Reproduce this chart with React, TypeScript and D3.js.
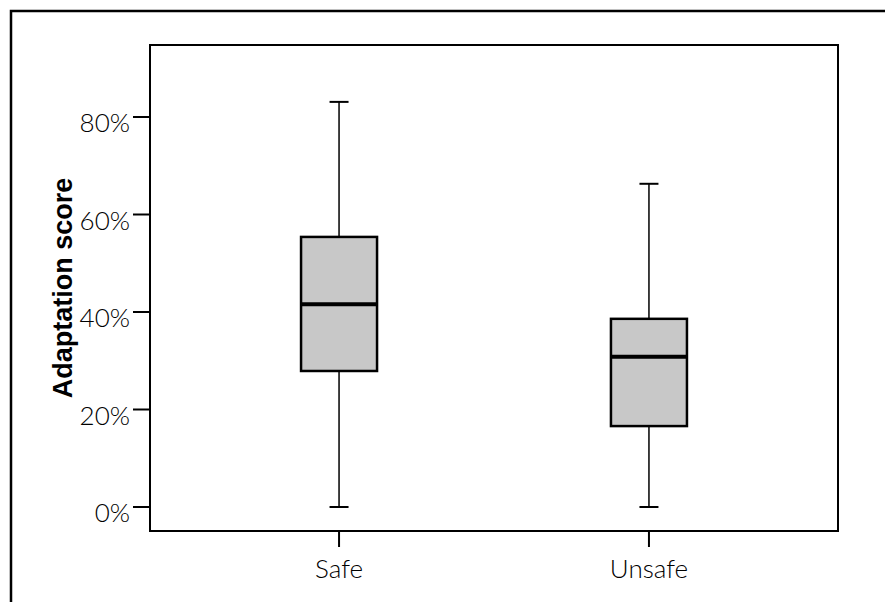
import * as d3 from "d3"
import React from "react"

const groups = ["Safe", "Unsafe"]
const mins = [0, 0]
const q1s = [27.9, 16.6]
const medians = [41.6, 30.8]
const q3s = [55.4, 38.6]
const maxs = [83.1, 66.3]
const yTickValues = [0, 20, 40, 60, 80]

export default function App() {
  const W = 885
  const H = 602
  const left = 150
  const right = 838
  const top = 45
  const bottom = 531
  const y = d3.scaleLinear().domain([0, 80]).range([507, 117])
  const x = d3.scalePoint().domain(groups).range([left, right]).padding(0.61)
  const boxW = 76
  const capW = 19
  const font = "Lato, 'DejaVu Sans', sans-serif"

  return (
    <svg width={W} height={H} style={{ position: "absolute", left: 0, top: 0, background: "#fff" }}>
      <path d={`M11,${H} V11 H${W}`} fill="none" stroke="#000" strokeWidth={2.5} />
      <rect x={left} y={top} width={right - left} height={bottom - top} fill="#fff" stroke="#000" strokeWidth={2} />
      {yTickValues.map(t => (
        <g key={t}>
          <line x1={133} x2={left} y1={y(t)} y2={y(t)} stroke="#000" strokeWidth={2} />
          <text x={130} y={y(t) + 15} textAnchor="end" fontSize={26} fontWeight={300} fontFamily={font} fill="#000">{t}%</text>
        </g>
      ))}
      {groups.map((g, i) => {
        const cx = x(g)!
        return (
          <g key={g}>
            <line x1={cx} x2={cx} y1={bottom} y2={bottom + 16} stroke="#000" strokeWidth={2} />
            <text x={cx} y={578} textAnchor="middle" fontSize={26} fontWeight={300} fontFamily={font} fill="#000">{g}</text>
            <line x1={cx} x2={cx} y1={y(maxs[i])} y2={y(q3s[i])} stroke="#000" strokeWidth={1.5} />
            <line x1={cx} x2={cx} y1={y(q1s[i])} y2={y(mins[i])} stroke="#000" strokeWidth={1.5} />
            <line x1={cx - capW / 2} x2={cx + capW / 2} y1={y(maxs[i])} y2={y(maxs[i])} stroke="#000" strokeWidth={2} />
            <line x1={cx - capW / 2} x2={cx + capW / 2} y1={y(mins[i])} y2={y(mins[i])} stroke="#000" strokeWidth={2} />
            <rect x={cx - boxW / 2} width={boxW} y={y(q3s[i])} height={y(q1s[i]) - y(q3s[i])} fill="#c8c8c8" stroke="#000" strokeWidth={2.5} />
            <line x1={cx - boxW / 2} x2={cx + boxW / 2} y1={y(medians[i])} y2={y(medians[i])} stroke="#000" strokeWidth={4} />
          </g>
        )
      })}
      <text transform={`translate(72,288) rotate(-90)`} textAnchor="middle" fontSize={27} fontWeight="bold" fontFamily="'Liberation Sans', Arial, sans-serif" fill="#000">Adaptation score</text>
    </svg>
  )
}
